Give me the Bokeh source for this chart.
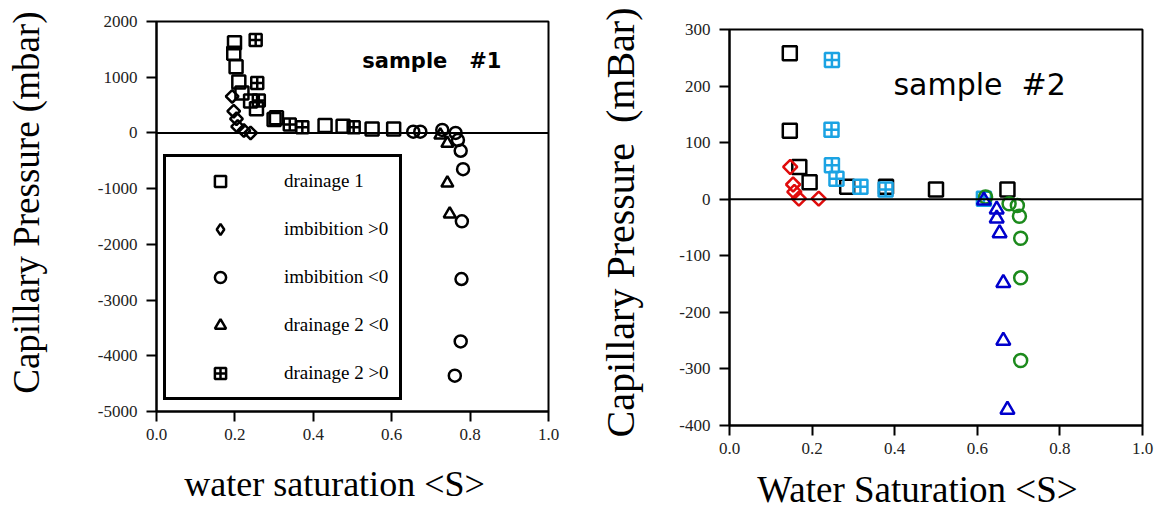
import math
from bokeh.plotting import figure
from bokeh.layouts import row
from bokeh.models import Span, Label, FixedTicker
from bokeh.embed import file_html
from bokeh.resources import INLINE

# ---------------- data: sample #1 ----------------
s1_drain1_x = [0.199, 0.197, 0.203, 0.210, 0.218, 0.240, 0.255, 0.300, 0.306, 0.430, 0.476, 0.550, 0.605]
s1_drain1_y = [1620, 1430, 1186, 915, 716, 571, 434, 240, 271, 132, 119, 72, 72]

s1_imb_pos_x = [0.193, 0.197, 0.204, 0.207, 0.223, 0.240]
s1_imb_pos_y = [656, 391, 253, 114, 42, 0]

s1_imb_neg_x = [0.655, 0.673, 0.729, 0.763, 0.769, 0.776, 0.782, 0.779, 0.778, 0.776, 0.761]
s1_imb_neg_y = [23, 23, 54, 0, -127, -320, -651, -1586, -2622, -3743, -4358]

s1_drain2_neg_x = [0.724, 0.742, 0.742, 0.748]
s1_drain2_neg_y = [-40, -188, -900, -1454]

s1_drain2_pos_x = [0.253, 0.257, 0.261, 0.340, 0.372, 0.503]
s1_drain2_pos_y = [1670, 897, 584, 150, 101, 101]

# ---------------- data: sample #2 ----------------
s2_drain1_x = [0.146, 0.146, 0.169, 0.194, 0.285, 0.379, 0.500, 0.673]
s2_drain1_y = [258, 121, 57, 30, 22, 22, 17, 17]

s2_drain2_pos_x = [0.248, 0.247, 0.248, 0.259, 0.317, 0.378, 0.616]
s2_drain2_pos_y = [246, 123, 60, 36, 22, 17, 1]

s2_imb_pos_x = [0.147, 0.154, 0.157, 0.168, 0.216]
s2_imb_pos_y = [57, 26, 13, 1, 1]

s2_imb_neg_x = [0.620, 0.677, 0.697, 0.702, 0.705, 0.705, 0.705]
s2_imb_neg_y = [4, -8, -11, -30, -69, -139, -285]

s2_drain2_neg_x = [0.616, 0.647, 0.647, 0.654, 0.663, 0.663, 0.673]
s2_drain2_neg_y = [-2, -18, -34, -60, -148, -250, -372]

x_ticks = [0.0, 0.2, 0.4, 0.6, 0.8, 1.0]
x_tick_labels = ["0.0", "0.2", "0.4", "0.6", "0.8", "1.0"]
y1_ticks = [-5000, -4000, -3000, -2000, -1000, 0, 1000, 2000]
y1_tick_labels = ["-5000", "-4000", "-3000", "-2000", "-1000", "0", "1000", "2000"]
y2_ticks = [-400, -300, -200, -100, 0, 100, 200, 300]
y2_tick_labels = ["-400", "-300", "-200", "-100", "0", "100", "200", "300"]

SERIF = "Liberation Serif"
NB = "\u00a0"


def style(p, yt, ytl, xlabel, ylabel, xstand, ystand, xsize, ysize):
    if "frame_align" in p.properties():
        p.frame_align = False
    p.xgrid.visible = False
    p.ygrid.visible = False
    p.outline_line_color = "black"
    p.outline_line_width = 2
    p.outline_line_alpha = 1
    p.background_fill_color = "white"
    p.border_fill_color = "white"
    p.xaxis.ticker = FixedTicker(ticks=x_ticks)
    p.xaxis.major_label_overrides = {t: l for t, l in zip(x_ticks, x_tick_labels)}
    p.yaxis.ticker = FixedTicker(ticks=yt)
    p.yaxis.major_label_overrides = {t: l for t, l in zip(yt, ytl)}
    for ax in (p.xaxis[0], p.yaxis[0]):
        ax.axis_line_width = 2
        ax.axis_line_color = "black"
        ax.major_tick_line_width = 2
        ax.major_tick_line_color = "black"
        ax.major_tick_in = 0
        ax.major_tick_out = 10
        ax.minor_tick_line_color = None
        ax.major_label_text_font = SERIF
        ax.major_label_text_font_size = "17px"
        ax.major_label_text_color = "#222222"
        ax.axis_label_text_font = SERIF
        ax.axis_label_text_font_style = "normal"
        ax.axis_label_text_color = "black"
    p.xaxis.axis_label_text_font_size = xsize
    p.yaxis.axis_label_text_font_size = ysize
    p.xaxis.axis_label = xlabel
    p.yaxis.axis_label = ylabel
    p.xaxis.major_label_standoff = 7
    p.yaxis.major_label_standoff = 9
    p.xaxis.axis_label_standoff = xstand
    p.yaxis.axis_label_standoff = ystand
    p.add_layout(Span(location=0, dimension="width", line_color="black", line_width=2))


# ---------------- left figure ----------------
p1 = figure(width=580, height=513, x_range=(0, 1), y_range=(-5000, 2000), title=None,
            output_backend="svg", toolbar_location=None,
            min_border_left=156, min_border_right=32, min_border_top=21, min_border_bottom=102)
style(p1, y1_ticks, y1_tick_labels, "water saturation <S>" + NB * 4,
      NB * 3 + "Capillary Pressure (mbar)", 21, 48, "36px", "37px")

lw = 2.5
p1.scatter(s1_drain1_x, s1_drain1_y, marker="square", size=13, fill_color="white", fill_alpha=0,
           line_color="black", line_width=lw, legend_label="drainage 1")
# legend proxy for the diamond series: zero size on the plot, the legend sizes its own glyph
p1.scatter(s1_imb_pos_x, s1_imb_pos_y, marker="diamond", size=0, fill_color="white", fill_alpha=0,
           line_color="black", line_width=lw, legend_label="imbibition >0")
p1.scatter(s1_imb_pos_x, s1_imb_pos_y, marker="square", angle=math.pi / 4, size=9,
           fill_color="white", fill_alpha=0, line_color="black", line_width=lw)
p1.scatter(s1_imb_neg_x, s1_imb_neg_y, marker="circle", size=12, fill_color="white", fill_alpha=0,
           line_color="black", line_width=lw, legend_label="imbibition <0")
p1.scatter(s1_drain2_neg_x, s1_drain2_neg_y, marker="triangle", size=12, fill_color="white", fill_alpha=0,
           line_color="black", line_width=lw, legend_label="drainage 2 <0")
p1.scatter(s1_drain2_pos_x, s1_drain2_pos_y, marker="square_cross", size=12, fill_color="white", fill_alpha=0,
           line_color="black", line_width=lw, legend_label="drainage 2 >0")

lg = p1.legend[0]
lg.location = (7, 11)
lg.margin = 0
lg.padding = 10
lg.spacing = 20
lg.glyph_width = 88
lg.glyph_height = 28
lg.label_height = 28
lg.label_standoff = 20
lg.label_text_font = SERIF
lg.label_text_font_size = "19px"
lg.label_text_color = "black"
lg.border_line_color = "black"
lg.border_line_alpha = 1
lg.border_line_width = 3
lg.background_fill_color = "white"
lg.background_fill_alpha = 1

p1.add_layout(Label(x=0.525, y=1300, text="sample" + NB * 3 + "#1", text_font="DejaVu Sans",
                    text_font_style="bold", text_font_size="21px", text_baseline="middle",
                    text_color="black"))

# ---------------- right figure ----------------
p2 = figure(width=580, height=513, x_range=(0, 1), y_range=(-400, 300), title=None,
            output_backend="svg", toolbar_location=None,
            min_border_left=149, min_border_right=18, min_border_top=29, min_border_bottom=88)
style(p2, y2_ticks, y2_tick_labels, "Water Saturation <S>" + NB * 4,
      NB + "Capillary Pressure" + NB + " (mBar)", 12, 33, "37px", "40px")
p2.xaxis.axis_label_text_line_height = 0.9

p2.scatter(s2_drain1_x, s2_drain1_y, marker="square", size=14, fill_color="white", fill_alpha=0,
           line_color="black", line_width=lw)
p2.scatter(s2_drain2_pos_x, s2_drain2_pos_y, marker="square_cross", size=14, fill_color="white", fill_alpha=0,
           line_color="#1ba3e3", line_width=lw)
p2.scatter(s2_imb_pos_x, s2_imb_pos_y, marker="square", angle=math.pi / 4, size=10,
           fill_color="white", fill_alpha=0, line_color="#e00c0c", line_width=lw)
p2.scatter(s2_imb_neg_x, s2_imb_neg_y, marker="circle", size=13, fill_color="white", fill_alpha=0,
           line_color="#1c8a1c", line_width=lw)
p2.scatter(s2_drain2_neg_x, s2_drain2_neg_y, marker="triangle", size=14, fill_color="white", fill_alpha=0,
           line_color="#0000cc", line_width=lw)

p2.add_layout(Label(x=0.397, y=203, text="sample" + NB * 2 + "#2", text_font="DejaVu Sans",
                    text_font_size="30px", text_baseline="middle", text_color="black"))

layout = row(p1, p2)
open("out.html", "w").write(file_html(layout, INLINE))
